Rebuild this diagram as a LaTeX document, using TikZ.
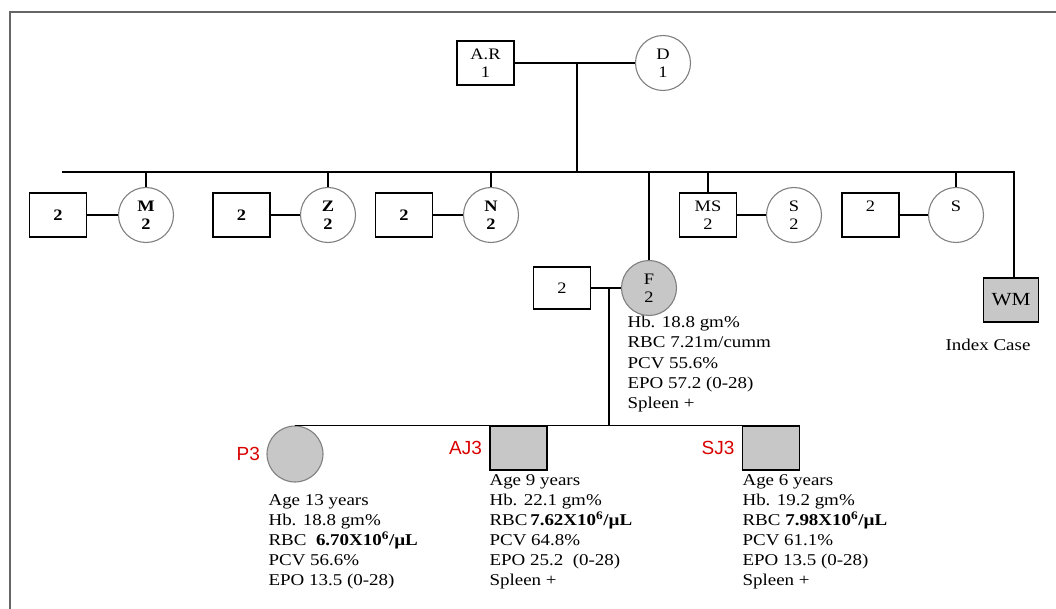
\documentclass[tikz,border=0pt]{standalone}
\usepackage{fontspec}
\setmainfont{Liberation Serif}[FakeStretch=1.15]
\newfontfamily\tagfont{Liberation Sans}
\usetikzlibrary{positioning}

\begin{document}
\begin{tikzpicture}[x=1pt,y=-1pt,line width=1.1pt,
  male/.style={draw,minimum width=57pt,minimum height=44pt,inner sep=0pt,align=center,
    font=\fontsize{16}{18}\selectfont},
  female/.style={circle,draw=black!50,minimum size=55pt,inner sep=0pt,align=center,
    font=\fontsize{16}{18}\selectfont},
  aff/.style={fill=black!22},
  info/.style={anchor=north west,inner sep=0pt,align=left,font=\fontsize{16.5}{20}\selectfont},
  tag/.style={text=red!85!black,inner sep=0pt,font=\tagfont\fontsize{19}{20}\selectfont}]
  \useasboundingbox (0,0) rectangle (1056,609);
  \draw[black!60,line width=2pt] (10,609) -- (10,12) -- (1056,12); % frame

  % generation 1
  \node[male] (ar) at (485.5,63) {A.R\\1};
  \node[female] (d) at (663,63) {D\\1};
  \coordinate (g1) at (577,63);
  \coordinate (sibL) at (62,172);
  \coordinate (sibR) at (1014,172);

  % generation 2
  \node[male] (h1) at (58,215) {\textbf{2}};
  \node[female] (m) at (146,215) {\textbf{M}\\\textbf{2}};
  \node[male] (h2) at (241.5,215) {\textbf{2}};
  \node[female] (z) at (328,215) {\textbf{Z}\\\textbf{2}};
  \node[male] (h3) at (404,215) {\textbf{2}};
  \node[female] (n) at (491,215) {\textbf{N}\\\textbf{2}};
  \node[male] (ms) at (708,215) {MS\\2};
  \node[female] (s2) at (794,215) {S\\2};
  \node[male] (h5) at (870.5,215) {2\\\mbox{}};
  \node[female] (s) at (956,215) {S\\\mbox{}};
  \node[male,aff,minimum width=55pt] (wm) at (1011,300) {\fontsize{18.5}{20}\selectfont WM};
  \node[font=\fontsize{16.5}{20}\selectfont,inner sep=0pt] (idx) at (988,345) {Index Case};
  \node[male,minimum height=42pt] (h6) at (562,288) {2};
  \node[female,aff] (f) at (649,288) {F\\2};
  \coordinate (fc) at (609,288);

  % generation 3
  \node[female,aff,minimum size=56pt] (p3) at (295,454) {};
  \node[male,aff] (aj3) at (518.5,448) {};
  \node[male,aff] (sj3) at (771,448) {};
  \node[tag,left=6pt of p3] (p3l) {P3};
  \node[tag,left=7pt of aj3] (aj3l) {AJ3};
  \node[tag,left=7pt of sj3] (sj3l) {SJ3};

  % lines
  \foreach \a/\b in {ar/d,h1/m,h2/z,h3/n,ms/s2,h5/s,h6/f}
    \draw (\a.east) -- (\b.west);
  \draw (g1) -- (g1 |- sibL);
  \draw (sibL) -- (sibR) -- (sibR |- wm.north);
  \foreach \n in {m,z,n,ms,s,f}
    \draw (\n.north) -- (\n.north |- sibL);
  \draw (fc) -- (fc |- p3.north);
  \draw (p3.north) -- (sj3.north west);

  % values
  \node[info] (ftxt) at (627,316) {Hb. 18.8 gm\%\\RBC 7.21m/cumm\\PCV 55.6\%\\EPO 57.2 (0-28)\\Spleen +};
  \node[info] (p3txt) at (268,494) {Age 13 years\\Hb. 18.8 gm\%\\RBC \ \textbf{6.70X10\textsuperscript{6}/µL}\\PCV 56.6\%\\EPO 13.5 (0-28)};
  \node[info] (aj3txt) at (489,474) {Age 9 years\\Hb. 22.1 gm\%\\RBC\,\textbf{7.62X10\textsuperscript{6}/µL}\\PCV 64.8\%\\EPO 25.2 \ (0-28)\\Spleen +};
  \node[info] (sj3txt) at (742,474) {Age 6 years\\Hb. 19.2 gm\%\\RBC \textbf{7.98X10\textsuperscript{6}/µL}\\PCV 61.1\%\\EPO 13.5 (0-28)\\Spleen +};
\end{tikzpicture}
\end{document}
